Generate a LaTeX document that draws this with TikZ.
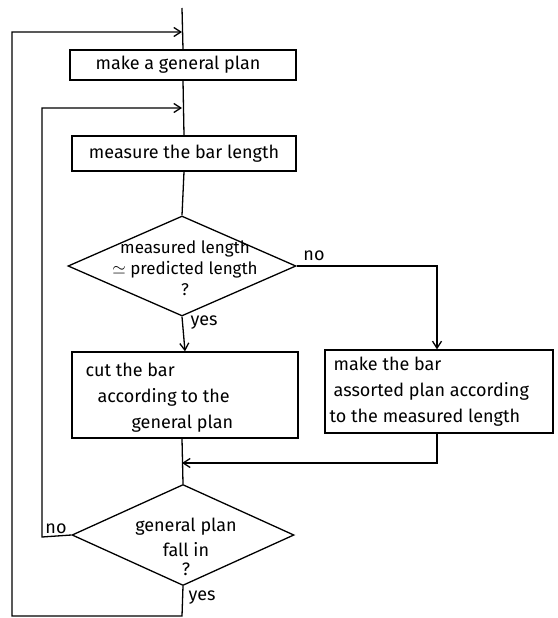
\documentclass[tikz,border=0pt]{standalone}
\usepackage{fontspec}
\setmainfont{Fira Sans}
\usetikzlibrary{arrows.meta,shapes.geometric}
\begin{document}
\begin{tikzpicture}[x=1pt,y=-1pt,
  line width=1.3pt,
  every node/.style={font=\fontsize{18}{22}\selectfont},
  procbox/.style={draw,rectangle,inner sep=0pt},
  decision/.style={draw,diamond,inner sep=0pt},
  txt/.style={inner sep=0pt,align=left},
  lbl/.style={inner sep=0pt},
  arr/.style={-{Straight Barb[length=7pt,width=9pt,line width=1.3pt]}}]
\useasboundingbox (0,0) rectangle (557,618);
\node[procbox,minimum width=226pt,minimum height=30pt] (plan) at (183,65) {};
\node[txt] (plant) at (178,65) {make a general plan};
\node[procbox,minimum width=224pt,minimum height=35pt] (meas) at (184,153.5) {};
\node[txt] (meast) at (184,154) {measure the bar length};
\node[decision,minimum width=228pt,minimum height=100pt] (d1) at (182,266) {};
\node[txt,align=center,font=\fontsize{17}{21}\selectfont] (d1t) at (185,268) {measured length\\$\simeq$ predicted length\\?};
\node[procbox,minimum width=226pt,minimum height=86pt] (cut) at (185,395) {};
\node[txt,anchor=west,font=\fontsize{18}{26}\selectfont] (cutt) at (85,398) {cut the bar\\\hspace*{12pt}according to the\\\hspace*{46pt}general plan};
\node[procbox,minimum width=228pt,minimum height=83pt] (alt) at (439,391.5) {};
\node[txt,anchor=west,font=\fontsize{18}{26}\selectfont] (altt) at (329,392) {\hspace*{4pt}make the bar\\\hspace*{4pt}assorted plan according\\to the measured length};
\node[decision,minimum width=222pt,minimum height=101pt] (d2) at (183,535) {};
\node[txt,align=center,font=\fontsize{18}{25}\selectfont] (d2t) at (186,547) {general plan\\fall in\\[-6pt]?};
\coordinate (top) at (182,8);
\coordinate (j1) at (182,32);
\coordinate (j2) at (182,108);
\coordinate (j3) at (182,463);
\coordinate (bot) at (182,616);
\coordinate (botl) at (12,616);
\coordinate (topl) at (12,32);
\coordinate (nol) at (42,537);
\coordinate (noltop) at (42,108);
\coordinate (nor) at (437,266);
\coordinate (altin) at (437,463);
\draw (top) -- (plan.north);
\draw (plan.south) -- (meas.north);
\draw (meas.south) -- (d1.north);
\draw[arr] (d1.south) -- (cut.north);
\draw[arr] (d1.east) -- (nor) -- (nor |- alt.north);
\draw[arr] (alt.south -| nor) -- (altin) -- (j3);
\draw (cut.south -| j3) -- (d2.north);
\draw[arr] (d2.west) -- (nol) -- (noltop) -- (j2);
\draw[arr] (d2.south) -- (bot) -- (botl) -- (topl) -- (j1);
\node[lbl] (no1) at (314,256) {no};
\node[lbl] (yes1) at (204,323) {yes};
\node[lbl] (no2) at (56,529) {no};
\node[lbl] (yes2) at (202,598) {yes};
\end{tikzpicture}
\end{document}
